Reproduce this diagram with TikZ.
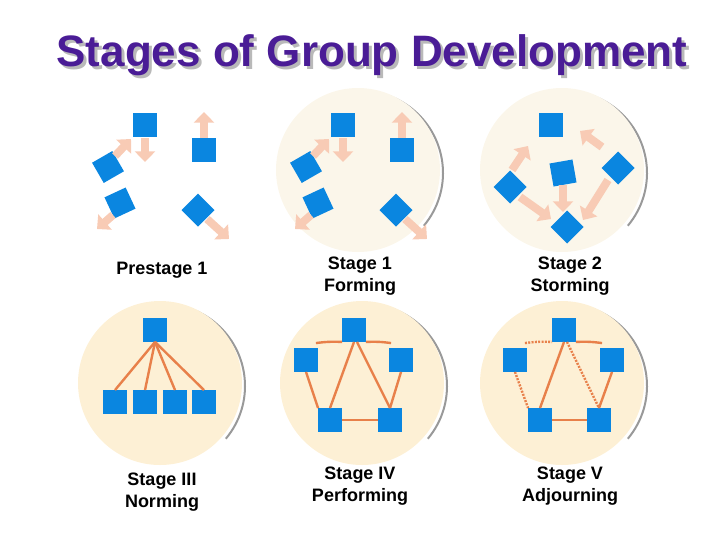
\documentclass[tikz,border=0pt]{standalone}
\usepackage{fontspec}
\setmainfont{Liberation Sans}
\usetikzlibrary{arrows.meta}
\definecolor{sqblue}{HTML}{0A86E0}
\definecolor{pinkar}{HTML}{F8CBB5}
\definecolor{lnor}{HTML}{E8804A}
\definecolor{ttl}{HTML}{4A1C96}
\definecolor{creamA}{HTML}{FBF6EA}
\definecolor{creamB}{HTML}{FDF0D5}
\tikzset{
 sq/.style={fill=sqblue,minimum size=17.5pt,inner sep=0pt,draw=none},
 fat/.style={draw=pinkar,line width=6pt,-{Triangle[width=15pt,length=8pt]}},
 bub/.style={circle,minimum size=123pt,inner sep=0pt},
 shadowc/.style={draw=gray!80,line width=1.5pt},
 ln/.style={draw=lnor,line width=1.8pt},
 dl/.style={draw=lnor,line width=1.8pt,dash pattern=on 1.5pt off 1pt},
 lab/.style={font=\fontsize{13.5}{16}\selectfont\bfseries,align=center}
}
\begin{document}
\begin{tikzpicture}[x=0.75pt,y=-0.75pt]
\useasboundingbox (0,0) rectangle (720,540);
% title
\node[font=\fontsize{33}{36}\bfseries,text=gray!55] at (375,58) {Stages of Group Development};
\node[font=\fontsize{33}{36}\bfseries,text=ttl] (title) at (372,55) {Stages of Group Development};
% circles
\foreach \n/\cx/\cy/\c in {c1/358/170/creamA,c2/562/170/creamA,c3/160/383/creamB,c4/362/383/creamB,c5/562/383/creamB}{
 \draw[shadowc] (\cx+3,\cy+3) ++(40:82) arc (40:-130:82);
 \node[bub,fill=\c] (\n) at (\cx,\cy) {};
}
% prestage and stage 1
\foreach \p/\dx in {p/0,s/198}{
 \begin{scope}[xshift=\dx*0.75pt]
 \node[sq] (\p a) at (145,125) {};
 \node[sq] (\p b) at (204,150) {};
 \node[sq,rotate=30] (\p c) at (108,167) {};
 \node[sq,rotate=25] (\p d) at (120,203) {};
 \node[sq,rotate=45] (\p e) at (198,210) {};
 \coordinate (\p a1) at (145,138); \coordinate (\p a2) at (145,162);
 \coordinate (\p b1) at (204,138); \coordinate (\p b2) at (204,112);
 \coordinate (\p c1) at (115,156); \coordinate (\p c2) at (131,139);
 \coordinate (\p d1) at (113,215); \coordinate (\p d2) at (97,229);
 \coordinate (\p e1) at (207,219); \coordinate (\p e2) at (229,239);
 \end{scope}
 \foreach \k in {a,b,c,d,e}{\draw[fat] (\p\k1) -- (\p\k2);}
}
% stage 2
\node[sq] (ta) at (551,125) {};
\node[sq,rotate=10] (tb) at (563,173) {};
\node[sq,rotate=45] (tc) at (510,187) {};
\node[sq,rotate=45] (td) at (618,168) {};
\node[sq,rotate=45] (te) at (567,227) {};
\coordinate (t11) at (512,170); \coordinate (t12) at (528,146);
\coordinate (t21) at (602,147); \coordinate (t22) at (580,131);
\draw[fat] (t11) -- (t12);
\draw[fat] (t21) -- (t22);
\draw[fat] (tc) ++(10,10) coordinate (t31) -- (551,219) coordinate (t32);
\draw[fat] (tb) ++(0,12) coordinate (t41) -- (563,212) coordinate (t42);
\draw[fat] (td) ++(-10,12) coordinate (t51) -- (583,220) coordinate (t52);
% Norming
\node[sq] (na) at (155,330) {};
\foreach \k/\x in {1/115,2/145,3/175,4/204}{
 \node[sq] (n\k) at (\x,402) {};
 \draw[ln] (na.south) -- (n\k.north);
}
% Performing
\node[sq] (fa) at (354,330) {};
\node[sq] (fl) at (306,360) {};
\node[sq] (fr) at (401,360) {};
\node[sq] (f1) at (330,420) {};
\node[sq] (f2) at (390,420) {};
\draw[ln] (fl.north east) ++(-2,-5) to[bend left=5] (fa.south west);
\draw[ln] (fa.south east) to[bend left=5] ([shift={(2,-5)}]fr.north west);
\draw[ln] (fa.south) -- (f1.north);
\draw[ln] (fa.south) ++(3,0) -- (f2.north);
\draw[ln] (fl.south) -- (f1.north west);
\draw[ln] (fr.south) -- (f2.north);
\draw[ln] (f1.east) -- (f2.west);
% Adjourning
\node[sq] (aa) at (564,330) {};
\node[sq] (al) at (515,360) {};
\node[sq] (ar) at (612,360) {};
\node[sq] (a1) at (540,420) {};
\node[sq] (a2) at (599,420) {};
\draw[dl] (al.north east) ++(-2,-5) to[bend left=5] (aa.south west);
\draw[ln] (aa.south east) to[bend left=5] ([shift={(2,-5)}]ar.north west);
\draw[ln] (aa.south) -- (a1.north);
\draw[dl] (aa.south) ++(3,0) -- (a2.north);
\draw[dl] (al.south) -- (a1.north west);
\draw[ln] (ar.south) -- (a2.north);
\draw[ln] (a1.east) -- (a2.west);
% labels
\node[lab] (l1) at (162,270) {Prestage 1};
\node[lab] (l2) at (360,276) {Stage 1\\Forming};
\node[lab] (l3) at (570,276) {Stage 2\\Storming};
\node[lab] (l4) at (162,492) {Stage III\\Norming};
\node[lab] (l5) at (360,486) {Stage IV\\Performing};
\node[lab] (l6) at (570,486) {Stage V\\Adjourning};
\end{tikzpicture}
\end{document}
